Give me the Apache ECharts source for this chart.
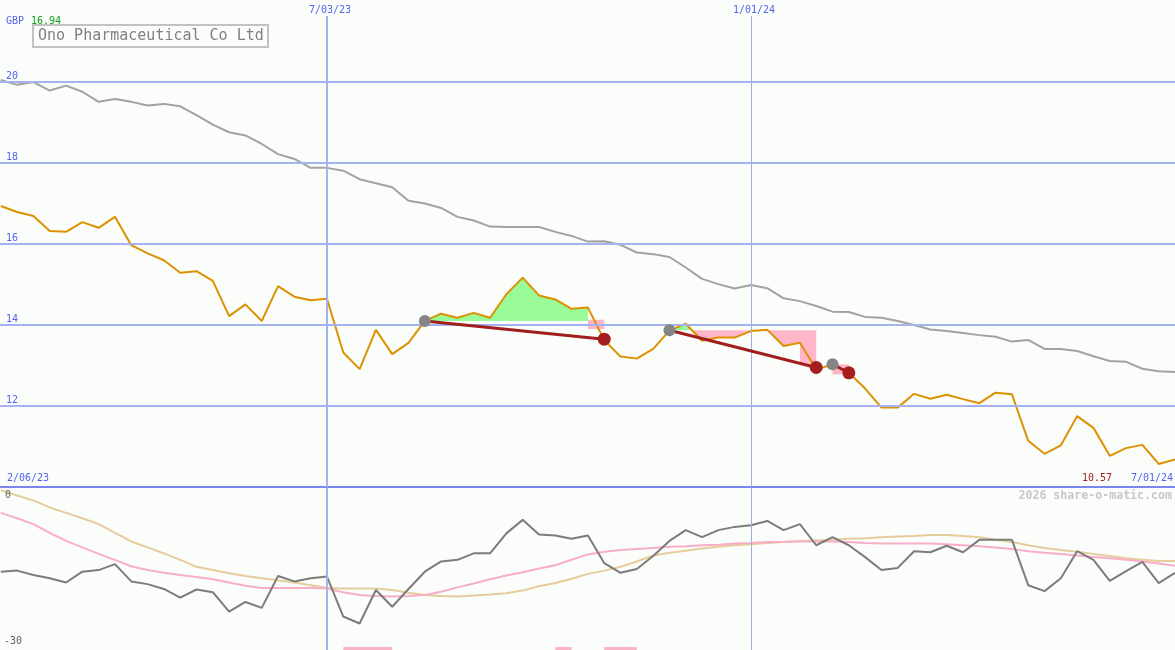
<!DOCTYPE html>
<html><head><meta charset="utf-8">
<script src="https://cdn.jsdelivr.net/npm/echarts@6/dist/echarts.min.js"></script>
<style>html,body{margin:0;padding:0;background:#fafdfa;}#c{width:1175px;height:650px;}</style>
</head><body><div id="c"></div>
<script>
// weekly closes (GBP)
const price = [16.94,16.79,16.69,16.32,16.30,16.54,16.40,16.67,15.97,15.77,
15.60,15.29,15.33,15.09,14.22,14.51,14.10,14.96,14.70,14.61,
14.65,13.32,12.91,13.88,13.28,13.56,14.10,14.28,14.18,14.30,
14.18,14.76,15.17,14.73,14.63,14.40,14.43,13.63,13.22,13.17,
13.41,13.86,14.03,13.61,13.69,13.69,13.85,13.88,13.48,13.56,
12.91,13.02,12.82,12.43,11.96,11.96,12.30,12.18,12.28,12.17,
12.07,12.33,12.29,11.14,10.82,11.03,11.75,11.46,10.77,10.96,
11.04,10.57,10.68];
// long moving average
const maLong = [20.05,19.93,20.00,19.79,19.91,19.76,19.51,19.58,19.51,19.42,
19.46,19.40,19.18,18.95,18.76,18.68,18.47,18.22,18.10,17.88,
17.88,17.81,17.60,17.50,17.40,17.07,17.00,16.89,16.67,16.58,
16.43,16.42,16.42,16.42,16.30,16.20,16.06,16.07,15.98,15.79,
15.75,15.68,15.42,15.14,15.01,14.90,14.99,14.91,14.66,14.59,
14.47,14.33,14.32,14.20,14.18,14.10,14.00,13.89,13.85,13.80,
13.75,13.71,13.59,13.63,13.41,13.41,13.36,13.23,13.11,13.09,
12.92,12.86,12.84];
// lower panel oscillator
const osc = [-15.5,-15.3,-16.1,-16.7,-17.5,-15.5,-15.2,-14.1,-17.3,-17.8,
-18.7,-20.3,-18.8,-19.3,-22.9,-21.1,-22.2,-16.3,-17.3,-16.7,
-16.4,-23.8,-25.1,-18.9,-22.0,-18.7,-15.5,-13.6,-13.3,-12.1,
-12.1,-8.4,-5.9,-8.6,-8.8,-9.4,-8.8,-13.9,-15.7,-15.0,
-12.6,-9.8,-7.8,-9.1,-7.8,-7.2,-6.9,-6.1,-7.8,-6.7,
-10.6,-9.1,-10.6,-12.8,-15.2,-14.8,-11.7,-11.9,-10.7,-11.9,
-9.6,-9.6,-9.6,-18.0,-19.1,-16.7,-11.7,-13.3,-17.2,-15.4,
-13.7,-17.6,-15.7];
const oscPink = [-4.6,-5.6,-6.7,-8.3,-9.8,-11.0,-12.2,-13.3,-14.5,-15.2,
-15.7,-16.1,-16.5,-16.9,-17.5,-18.1,-18.5,-18.5,-18.5,-18.5,
-18.6,-19.3,-19.8,-20.0,-20.1,-20.0,-19.8,-19.2,-18.4,-17.7,
-16.9,-16.2,-15.6,-14.9,-14.3,-13.3,-12.3,-11.8,-11.5,-11.3,
-11.1,-10.9,-10.8,-10.6,-10.5,-10.3,-10.2,-10.0,-10.0,-9.9,
-9.9,-9.9,-10.0,-10.2,-10.3,-10.3,-10.3,-10.3,-10.4,-10.6,
-10.8,-11.0,-11.3,-11.7,-12.0,-12.2,-12.5,-12.8,-13.0,-13.3,
-13.6,-14.0,-14.4];
const oscTan = [-0.4,-1.4,-2.3,-3.6,-4.6,-5.6,-6.7,-8.3,-9.9,-11.0,
-12.1,-13.3,-14.6,-15.2,-15.8,-16.3,-16.7,-17.1,-17.5,-18.0,
-18.5,-18.6,-18.6,-18.6,-18.9,-19.4,-19.8,-20.0,-20.1,-19.9,
-19.7,-19.5,-19.0,-18.2,-17.6,-16.8,-15.9,-15.3,-14.6,-13.6,
-12.5,-12.0,-11.6,-11.2,-10.9,-10.6,-10.4,-10.2,-10.0,-9.8,
-9.7,-9.6,-9.4,-9.3,-9.1,-9.0,-8.9,-8.7,-8.7,-8.9,
-9.1,-9.6,-10.0,-10.6,-11.1,-11.5,-11.8,-12.2,-12.6,-13.0,
-13.3,-13.5,-13.5];
// signal bars (week ranges) at the foot of the lower panel
const barStart = [21, 34, 37];
const barEnd = [24, 35, 39];
// trades
const entryWeek = [26, 41, 51];
const entryPrice = [14.10, 13.87, 13.03];
const exitWeek = [37, 50, 52];
const exitPrice = [13.65, 12.95, 12.82];
// gain / loss shading
const greenFills = [
  {level: 14.10, pts: price.slice(26, 37).map((v, i) => [26 + i, v])},
  {level: 13.87, pts: [[41, 13.86], [42, 14.03], [42.36, 13.87]]}
];
const pinkFills = [
  {level: 13.87, pts: [[42.36, 13.87]].concat(price.slice(43, 50).map((v, i) => [43 + i, v]))}
];
const pinkRects = [[36, 37, 14.13, 13.90], [49, 50, 13.87, 13.04], [51, 52, 13.03, 12.78]];
// axes / labels
const gridLevels = [12, 14, 16, 18, 20];
const dateLineWeeks = [20, 46];
const dateLineLabels = ['7/03/23', '1/01/24'];

const weeks = price.map((_, i) => i);
const pair = arr => arr.map((v, i) => [weeks[i], v]);
const F = '"DejaVu Sans Mono", monospace';
const BLUE = '#5464f0';

const chart = echarts.init(document.getElementById('c'));
const series = [];

// top grid: gridlines, divider, date lines
series.push({
  type: 'line', xAxisIndex: 0, yAxisIndex: 0, data: pair(maLong), symbol: 'none', z: 1,
  lineStyle: {opacity: 0}, silent: true,
  markLine: {
    symbol: 'none', silent: true, animation: false,
    data: gridLevels.map(v => ({yAxis: v,
      lineStyle: {color: '#a4b2f2', width: 2, type: 'solid'},
      label: {show: true, position: 'insideStartTop', distance: [6, 1], formatter: String(v),
        color: BLUE, fontFamily: F, fontSize: 10}}))
      .concat([{yAxis: 10, lineStyle: {color: '#7886ee', width: 2, type: 'solid'}, label: {show: false}}])
      .concat(dateLineWeeks.map((w, i) => ({xAxis: w,
        lineStyle: {color: i === 0 ? '#a4b2f2' : '#a0aede', width: i === 0 ? 2 : 1, type: 'solid'},
        label: {show: true, position: 'end', distance: 1, offset: [3, 0], formatter: dateLineLabels[i],
          color: BLUE, fontFamily: F, fontSize: 10}})))
  }
});
greenFills.forEach(f => series.push({
  type: 'line', xAxisIndex: 0, yAxisIndex: 0, data: f.pts, symbol: 'none', z: 2, silent: true,
  lineStyle: {width: 0}, areaStyle: {color: '#98fb98', opacity: 1, origin: f.level}
}));
pinkFills.forEach(f => series.push({
  type: 'line', xAxisIndex: 0, yAxisIndex: 0, data: f.pts, symbol: 'none', z: 2, silent: true,
  lineStyle: {width: 0}, areaStyle: {color: '#ffb6c8', opacity: 1, origin: f.level}
}));
series.push({
  type: 'custom', xAxisIndex: 0, yAxisIndex: 0, data: pinkRects, z: 2, silent: true,
  encode: {x: [0, 1], y: [2, 3]},
  renderItem: (params, api) => {
    const a = api.coord([api.value(0), api.value(2)]);
    const b = api.coord([api.value(1), api.value(3)]);
    return {type: 'rect', shape: {x: a[0], y: a[1], width: b[0] - a[0], height: b[1] - a[1]},
      style: {fill: '#ffb6c8'}};
  }
});
series.push({type: 'line', xAxisIndex: 0, yAxisIndex: 0, data: pair(maLong), symbol: 'none', z: 3,
  lineStyle: {color: '#a2a2a2', width: 2}});
series.push({type: 'line', xAxisIndex: 0, yAxisIndex: 0, data: pair(price), symbol: 'none', z: 4,
  lineStyle: {color: '#dd9100', width: 2}});
series.push({
  type: 'lines', coordinateSystem: 'cartesian2d', xAxisIndex: 0, yAxisIndex: 0, z: 5,
  lineStyle: {color: '#a01e1e', width: 3, opacity: 1},
  data: entryWeek.map((w, i) => ({coords: [[w, entryPrice[i]], [exitWeek[i], exitPrice[i]]]}))
});
series.push({type: 'scatter', xAxisIndex: 0, yAxisIndex: 0, z: 6, symbolSize: 12,
  itemStyle: {color: '#858585', opacity: 1},
  data: entryWeek.map((w, i) => [w, entryPrice[i]])});
series.push({type: 'scatter', xAxisIndex: 0, yAxisIndex: 0, z: 6, symbolSize: 13,
  itemStyle: {color: '#a51e1e', opacity: 1},
  data: exitWeek.map((w, i) => [w, exitPrice[i]])});

// lower grid
series.push({
  type: 'line', xAxisIndex: 1, yAxisIndex: 1, data: pair(oscTan), symbol: 'none', z: 2,
  lineStyle: {color: '#e6cc9a', width: 2},
  markLine: {
    symbol: 'none', silent: true, animation: false, label: {show: false},
    data: dateLineWeeks.map((w, i) => ({xAxis: w,
      lineStyle: {color: i === 0 ? '#a4b2f2' : '#a0aede', width: i === 0 ? 2 : 1, type: 'solid'}}))
  }
});
series.push({type: 'line', xAxisIndex: 1, yAxisIndex: 1, data: pair(oscPink), symbol: 'none', z: 3,
  lineStyle: {color: '#f8aec6', width: 2}});
series.push({type: 'line', xAxisIndex: 1, yAxisIndex: 1, data: pair(osc), symbol: 'none', z: 4,
  lineStyle: {color: '#7c7c7c', width: 2}});
series.push({
  type: 'custom', xAxisIndex: 1, yAxisIndex: 1, z: 3, silent: true,
  data: barStart.map((s, i) => [s, barEnd[i]]), encode: {x: [0, 1]},
  renderItem: (params, api) => {
    const a = api.coord([api.value(0), -30]);
    const b = api.coord([api.value(1), -30]);
    return {type: 'rect', shape: {x: a[0], y: a[1] - 3, width: b[0] - a[0], height: 3},
      style: {fill: '#f9b4c8'}};
  }
});

const txt = (x, y, text, fill, extra) => Object.assign({type: 'text', left: x, top: y, z: 20,
  style: {text: text, fill: fill, font: '10px ' + F}}, extra || {});

chart.setOption({
  animation: false,
  backgroundColor: '#fafdfa',
  grid: [{left: 0, right: 0, top: 16, bottom: 163}, {left: 0, right: 0, top: 488, bottom: 0}],
  xAxis: [
    {type: 'value', gridIndex: 0, min: -0.05, max: 72, show: false},
    {type: 'value', gridIndex: 1, min: -0.05, max: 72, show: false}
  ],
  yAxis: [
    {type: 'value', gridIndex: 0, min: 10, max: 21.63, show: false},
    {type: 'value', gridIndex: 1, min: -30, max: 0, show: false}
  ],
  series: series,
  graphic: [
    txt(6, 16, 'GBP', BLUE),
    txt(31, 16, '16.94', '#12a012'),
    {type: 'rect', z: 20, shape: {x: 33, y: 25, width: 235, height: 22},
      style: {fill: 'rgba(0,0,0,0)', stroke: '#c2c2c2', lineWidth: 2}},
    {type: 'text', z: 21, x: 38, y: 36.5, style: {text: 'Ono Pharmaceutical Co Ltd', fill: '#808080',
      font: '15px ' + F, textVerticalAlign: 'middle', verticalAlign: 'middle'}},
    txt(7, 473, '2/06/23', BLUE),
    txt(1082, 473, '10.57', '#a01e1e'),
    txt(1131, 473, '7/01/24', BLUE),
    {type: 'text', right: 3, top: 490, z: 20, style: {text: '2026 share-o-matic.com', fill: '#c8c8c8',
      font: 'bold 11.6px ' + F}},
    txt(5, 490, '0', '#606060'),
    txt(4, 636, '-30', '#606060')
  ]
});
</script></body></html>
